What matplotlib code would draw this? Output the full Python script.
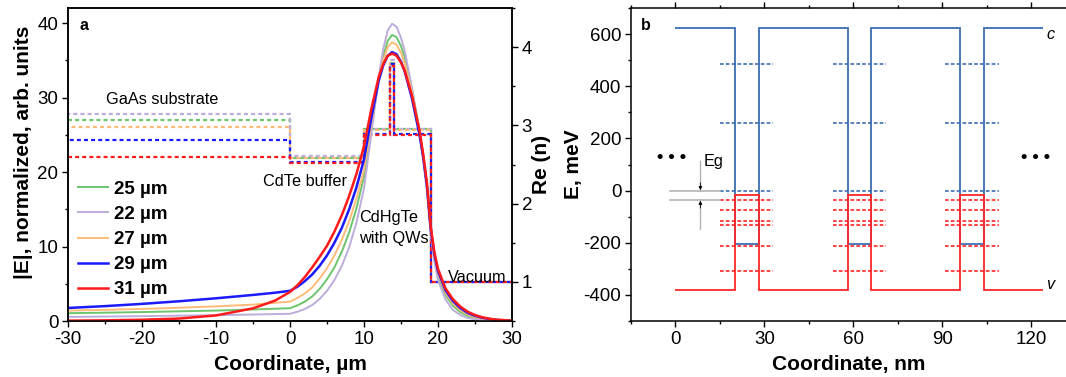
import matplotlib
matplotlib.use("Agg")
import matplotlib.pyplot as plt
from matplotlib.ticker import MultipleLocator

plt.rcParams['font.family'] = ['Liberation Sans', 'DejaVu Sans']
plt.rcParams['axes.unicode_minus'] = False

# ---------------- panel a: |E| profiles ----------------
x_um = [-30, -25, -20, -15, -10, -5, -2, 0, 1, 2, 3, 4, 5, 6, 7, 8, 9, 10,
        11, 12, 12.6, 13.2, 13.8, 14.4, 15.0, 15.5, 16.5, 17.5, 18, 18.5, 19, 19.5,
        20, 21, 22, 23, 24, 25, 26, 27, 28, 30]
E_25 = [1.05, 1.12, 1.2, 1.3, 1.4, 1.55, 1.65, 1.72, 2.1, 2.6, 3.3, 4.3, 5.6, 7.2, 9.3, 11.9, 15.2, 19.4,
        26.0, 32.6, 35.5, 37.6, 38.4, 38.1, 36.9, 35.4, 31.0, 25.6, 22.2, 18.0, 12.3, 8.6,
        6.1, 3.5, 2.05, 1.2, 0.7, 0.4, 0.23, 0.13, 0.07, 0.02]
E_22 = [0.55, 0.6, 0.65, 0.72, 0.78, 0.87, 0.93, 0.97, 1.25, 1.6, 2.15, 2.95, 4.05, 5.5, 7.4, 9.9, 13.3, 17.8,
        25.2, 32.8, 36.5, 39.0, 39.9, 39.5, 38.0, 36.3, 31.2, 25.2, 21.6, 17.4, 11.8, 8.1,
        5.5, 2.9, 1.5, 0.8, 0.42, 0.22, 0.12, 0.06, 0.03, 0.01]
E_27 = [1.4, 1.5, 1.62, 1.78, 1.97, 2.2, 2.45, 2.6, 3.1, 3.7, 4.5, 5.7, 7.1, 8.8, 10.9, 13.4, 16.5, 20.3,
        26.6, 32.5, 35.0, 36.8, 37.4, 37.1, 36.0, 34.6, 30.6, 25.4, 22.2, 18.2, 12.4, 8.8,
        6.4, 3.8, 2.35, 1.45, 0.88, 0.52, 0.3, 0.17, 0.1, 0.03]
E_29 = [1.75, 2.0, 2.3, 2.65, 3.05, 3.5, 3.8, 4.05, 4.6, 5.35, 6.25, 7.4, 8.8, 10.5, 12.5, 15.0, 18.0, 21.7,
        27.3, 32.3, 34.3, 35.6, 36.1, 35.8, 34.8, 33.5, 29.8, 25.0, 22.0, 18.2, 12.5, 9.0,
        6.7, 4.15, 2.7, 1.75, 1.1, 0.7, 0.43, 0.26, 0.15, 0.04]
E_31 = [0.05, 0.09, 0.17, 0.33, 0.75, 1.7, 2.75, 3.9, 4.8, 5.9, 7.2, 8.6, 10.1, 12.0, 14.2, 16.8, 19.8, 23.5,
        28.5, 32.8, 34.5, 35.6, 35.9, 35.6, 34.7, 33.6, 30.2, 25.6, 22.4, 18.6, 12.8, 9.3,
        7.0, 4.4, 2.95, 1.95, 1.25, 0.8, 0.5, 0.3, 0.17, 0.05]

# Re(n) step profiles: substrate, buffer, core, QWs, core, vacuum
layer_edges = [-30, 0, 10, 13.55, 14.05, 19, 30]
n_25 = [3.07, 2.59, 2.95, 3.80, 2.95, 1.0]
n_22 = [3.15, 2.61, 2.96, 3.84, 2.96, 1.0]
n_27 = [2.98, 2.58, 2.94, 3.80, 2.94, 1.0]
n_29 = [2.82, 2.53, 2.89, 3.78, 2.89, 1.0]
n_31 = [2.60, 2.52, 2.88, 3.76, 2.88, 1.0]

labels = ["25 µm", "22 µm", "27 µm", "29 µm", "31 µm"]
colors = ["#6cc46c", "#bcadda", "#ffbb77", "#1a1aff", "#ff1a1a"]
widths = [1.4, 1.4, 1.4, 1.8, 1.8]

# ---------------- panel b: band diagram ----------------
well_edges = [0, 20, 28, 58, 66, 96, 104, 124]
Ec = [625, -205, 625, -205, 625, -205, 625]
Ev = [-380, -18, -380, -18, -380, -18, -380]
well_centers = [24, 62, 100]
c_levels = [484, 260, 0]
v_levels = [-37, -73, -116, -131, -213, -310]

TICK = 13.5
LAB = 15
ANN = 11.7

fig = plt.figure(figsize=(10.66, 3.77), dpi=100)
ax = fig.add_axes([68/1066, 0.1485, 444/1066, 0.830])
ax2 = ax.twinx()
ax.set_zorder(ax2.get_zorder() + 1)
ax.patch.set_visible(False)

for i, n in enumerate([n_25, n_22, n_27, n_29, n_31]):
    ax2.stairs(n, layer_edges, baseline=None, color=colors[i], lw=1.6,
               ls=(i * 0.8, (1.8, 1.4)))
lines = []
for E, c, w, lab in zip([E_25, E_22, E_27, E_29, E_31], colors, widths, labels):
    l, = ax.plot(x_um, E, color=c, lw=w, label=lab)
    lines.append(l)

ax.set_xlim(-30, 30)
ax.set_ylim(0, 42)
ax2.set_ylim(0.5, 4.5)
ax.xaxis.set_major_locator(MultipleLocator(10))
ax.xaxis.set_minor_locator(MultipleLocator(5))
ax.yaxis.set_major_locator(MultipleLocator(10))
ax.yaxis.set_minor_locator(MultipleLocator(5))
ax2.yaxis.set_major_locator(MultipleLocator(1))
ax2.yaxis.set_minor_locator(MultipleLocator(0.5))
for a in (ax, ax2):
    a.tick_params(which='major', direction='out', length=4.5, width=1, labelsize=TICK, pad=2.5)
    a.tick_params(which='minor', direction='out', length=2.5, width=1)
    for s in a.spines.values():
        s.set_linewidth(1.1)
ax.set_xlabel("Coordinate, µm", fontsize=LAB, fontweight='bold', labelpad=5)
ax.set_ylabel("|E|, normalized, arb. units", fontsize=LAB, fontweight='bold', labelpad=3)
ax.yaxis.label.set_y(0.538)
ax2.set_ylabel("Re (n)", fontsize=LAB, fontweight='bold', labelpad=0)

leg = ax.legend(handles=lines, loc='lower left', bbox_to_anchor=(0.0225, 0.072),
                borderaxespad=0, borderpad=0,
                frameon=False, handlelength=1.6, handletextpad=0.3, labelspacing=0.43,
                prop={'size': 13.5, 'weight': 'bold'})

ax.text(-28.4, 39.6, "a", fontsize=11.5, fontweight='bold', va='center')
ax.text(-17.3, 29.7, "GaAs substrate", fontsize=ANN, ha='center', va='center')
ax.text(2.0, 18.7, "CdTe buffer", fontsize=ANN, ha='center', va='center')
ax.text(9.3, 12.5, "CdHgTe\nwith QWs", fontsize=ANN, ha='left', va='center', linespacing=1.45)
ax.text(21.3, 5.9, "Vacuum", fontsize=ANN, ha='left', va='center')

# ---------------- panel b ----------------
bx = fig.add_axes([631/1066, 0.1485, 436/1066, 0.830])
blue_b = "#3b6db3"
red_b = "#ff2626"
bx.stairs(Ec, well_edges, baseline=None, color=blue_b, lw=1.3)
bx.stairs(Ev, well_edges, baseline=None, color=red_b, lw=1.3)
for xc in well_centers:
    for e in c_levels:
        bx.plot([xc - 9, xc + 9], [e, e], color=blue_b, lw=1.2, ls=(0, (2.2, 1.3)))
    for e in v_levels:
        bx.plot([xc - 9, xc + 9], [e, e], color=red_b, lw=1.2, ls=(0, (2.2, 1.3)))

# Eg marker
gray = "#b4b4b4"
bx.plot([-2, 15], [0, 0], color=gray, lw=1.2)
bx.plot([-2, 15], [v_levels[0], v_levels[0]], color=gray, lw=1.2)
bx.plot([8.4, 8.4], [112, 0], color=gray, lw=1)
bx.plot([8.4, 8.4], [-148, v_levels[0]], color=gray, lw=1)
bx.annotate("", xy=(8.4, 2), xytext=(8.4, 30),
            arrowprops=dict(arrowstyle='-|>', color='black', lw=0.6, mutation_scale=5,
                            shrinkA=0, shrinkB=0))
bx.annotate("", xy=(8.4, v_levels[0] - 2), xytext=(8.4, v_levels[0] - 30),
            arrowprops=dict(arrowstyle='-|>', color='black', lw=0.6, mutation_scale=5,
                            shrinkA=0, shrinkB=0))
bx.text(9.6, 112, "Eg", fontsize=ANN, ha='left', va='center')
bx.text(-1.2, 128, "• • •", fontsize=13, fontweight='bold', ha='center', va='center')
bx.text(121.5, 128, "• • •", fontsize=13, fontweight='bold', ha='center', va='center')
bx.text(125, 598, "c", fontsize=ANN, style='italic', ha='left', va='center')
bx.text(125, -360, "v", fontsize=ANN, style='italic', ha='left', va='center')
bx.text(-11.8, 635, "b", fontsize=11.5, fontweight='bold', va='center')

bx.set_xlim(-15, 132)
bx.set_ylim(-500, 700)
bx.xaxis.set_major_locator(MultipleLocator(30))
bx.xaxis.set_minor_locator(MultipleLocator(15))
bx.yaxis.set_major_locator(MultipleLocator(200))
bx.yaxis.set_minor_locator(MultipleLocator(100))
bx.tick_params(which='major', direction='out', length=4.5, width=1, labelsize=TICK, top=True, pad=2.5)
bx.tick_params(which='minor', direction='out', length=2.5, width=1, top=True)
for s in bx.spines.values():
    s.set_linewidth(1.1)
bx.set_xlabel("Coordinate, nm", fontsize=LAB, fontweight='bold', labelpad=5)
bx.set_ylabel("E, meV", fontsize=LAB, fontweight='bold', labelpad=0)

fig.savefig("out.png", dpi=100)
